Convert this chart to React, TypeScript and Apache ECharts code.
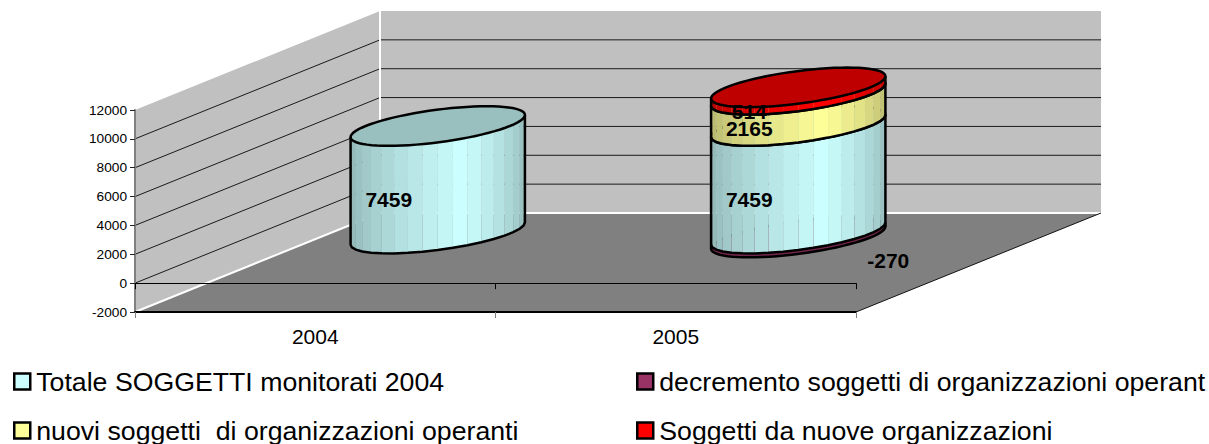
import React, { useEffect, useRef } from "react";
import * as echarts from "echarts";

const categories = ["2004", "2005"];
const totale = [7459, 7459];
const decremento = [null, -270];
const nuovi = [null, 2165];
const nuoveOrganizzazioni = [null, 514];
const yMin = -2000;
const yMax = 12000;
const yStep = 2000;
const gridValues = [0, 2000, 4000, 6000, 8000, 10000];

const seriesNames = [
  "Totale SOGGETTI monitorati 2004",
  "decremento soggetti di organizzazioni operant",
  "nuovi soggetti  di organizzazioni operanti",
  "Soggetti da nuove organizzazioni",
];
const seriesColors = ["#CCFFFF", "#993366", "#FFFF99", "#FF0000"];

const DEPTH_X = 245;
const DEPTH_Y = -99;
const GAP = 2.5; // gap width 150%
const FACETS = 18;
const LABEL_FONT = 'bold 21px "Liberation Sans", Arial, sans-serif';
const FONT = '"Liberation Sans", Arial, sans-serif';

function shade(hex: string, k: number) {
  const n = parseInt(hex.slice(1), 16);
  const c = [(n >> 16) & 255, (n >> 8) & 255, n & 255].map((v) => Math.round(v * k));
  return `rgb(${c[0]},${c[1]},${c[2]})`;
}

function wallsRender(params: any, api: any) {
  const cs = params.coordSys;
  const left = cs.x;
  const right = cs.x + cs.width;
  const yOf = (v: number) => api.coord([0, v])[1];
  const bottom = yOf(yMin);
  const top = yOf(yMax);
  const children: any[] = [
    { type: "polygon", shape: { points: [[left, top], [left + DEPTH_X, top + DEPTH_Y], [left + DEPTH_X, bottom + DEPTH_Y], [left, bottom]] }, style: { fill: "#C0C0C0" } },
    { type: "rect", shape: { x: left + DEPTH_X, y: top + DEPTH_Y, width: right - left, height: bottom - top }, style: { fill: "#C0C0C0" } },
    { type: "polygon", shape: { points: [[left, bottom], [right, bottom], [right + DEPTH_X, bottom + DEPTH_Y], [left + DEPTH_X, bottom + DEPTH_Y]] }, style: { fill: "#808080" } },
  ];
  gridValues.forEach((v) => {
    const y = yOf(v);
    children.push({ type: "polyline", shape: { points: [[left, y], [left + DEPTH_X, y + DEPTH_Y], [right + DEPTH_X, y + DEPTH_Y]] }, style: { stroke: "#1a1a1a", fill: "none", lineWidth: 1 } });
  });
  const white = { stroke: "#FFFFFF", fill: "none", lineWidth: 2 };
  children.push({ type: "polyline", shape: { points: [[left, bottom], [left + DEPTH_X, bottom + DEPTH_Y], [left + DEPTH_X, top + DEPTH_Y]] }, style: white });
  children.push({ type: "polyline", shape: { points: [[left + DEPTH_X, bottom + DEPTH_Y], [right + DEPTH_X, bottom + DEPTH_Y]] }, style: white });
  children.push({ type: "polyline", shape: { points: [[right, bottom], [right + DEPTH_X, bottom + DEPTH_Y]] }, style: { stroke: "#111", fill: "none", lineWidth: 1 } });
  return { type: "group", children };
}

function cylinderRender(color: string, nudge: number[]) {
  return (params: any, api: any) => {
    const idx = api.value(0);
    const base = api.value(1);
    const top = api.value(2);
    const label = api.value(3);
    const band = api.size([1, 0])[0];
    const p0 = api.coord([idx, base]);
    const p1 = api.coord([idx, top]);
    const cx = p0[0] + DEPTH_X / 2;
    const yB = p0[1] + DEPTH_Y / 2;
    const yT = p1[1] + DEPTH_Y / 2;
    const a = band / 2 / GAP;
    const bx = (DEPTH_X / 2) / GAP;
    const by = (DEPTH_Y / 2) / GAP;
    const pt = (t: number, y: number) => [cx + a * Math.cos(t) + bx * Math.sin(t), y + by * Math.sin(t)];
    const t0 = Math.atan2(bx, a);
    const tAt = (i: number) => t0 - Math.PI + (Math.PI * i) / FACETS;
    const children: any[] = [];
    for (let i = 0; i < FACETS; i++) {
      const u = i / (FACETS - 1);
      const k = u < 0.6 ? 0.7 + 0.3 * (u / 0.6) : 1 - 0.28 * ((u - 0.6) / 0.4);
      children.push({
        type: "polygon",
        shape: { points: [pt(tAt(i), yT), pt(tAt(i + 1), yT), pt(tAt(i + 1), yB), pt(tAt(i), yB)] },
        style: { fill: shade(color, k) },
      });
    }
    const bottomArc: number[][] = [pt(tAt(0), yT)];
    for (let i = 0; i <= FACETS; i++) bottomArc.push(pt(tAt(i), yB));
    bottomArc.push(pt(tAt(FACETS), yT));
    children.push({ type: "polyline", shape: { points: bottomArc }, style: { stroke: "#000", fill: "none", lineWidth: 2.5 } });
    const ring: number[][] = [];
    for (let i = 0; i < 72; i++) ring.push(pt((i / 72) * Math.PI * 2, yT));
    children.push({ type: "polygon", shape: { points: ring }, style: { fill: shade(color, 0.75), stroke: "#000", lineWidth: 2.5 } });
    const mid = (yB + yT) / 2;
    children.push({
      type: "text",
      z2: 50,
      style: {
        text: String(label),
        x: cx - 49 + nudge[0],
        y: mid + 20 + nudge[1],
        font: LABEL_FONT,
        fill: "#000",
        textAlign: "center",
        verticalAlign: "middle",
      },
    });
    return { type: "group", children };
  };
}

function stackRows() {
  const rows: any[][] = [[], [], [], []];
  categories.forEach((_, i) => {
    const t = totale[i];
    rows[0].push([i, 0, t, t]);
    const d = decremento[i];
    if (d !== null) rows[1].push([i, 0, d, d]);
    const n = nuovi[i];
    if (n !== null) rows[2].push([i, t, t + n, n]);
    const o = nuoveOrganizzazioni[i];
    if (o !== null) rows[3].push([i, t + (n ?? 0), t + (n ?? 0) + o, o]);
  });
  return rows;
}

const legendLayout = [
  { left: 13, top: 368 },
  { left: 636, top: 368 },
  { left: 13, top: 417 },
  { left: 636, top: 417 },
];

export default function App() {
  const ref = useRef<HTMLDivElement>(null);
  useEffect(() => {
    document.body.style.margin = "0";
    const chart = echarts.init(ref.current!, undefined, { renderer: "svg" });
    const rows = stackRows();
    const zOrder = [5, 4, 6, 7];
    const nudges = [[0, 0], [139, 5], [0, -2], [0, 0]];
    chart.setOption({
      animation: false,
      backgroundColor: "#FFFFFF",
      textStyle: { fontFamily: FONT },
      grid: { left: 135, right: 353, top: 110, bottom: 132, containLabel: false },
      legend: seriesNames.map((name, i) => ({
        data: [name],
        selectedMode: false,
        left: legendLayout[i].left,
        top: legendLayout[i].top,
        padding: 0,
        itemWidth: 16,
        itemHeight: 16,
        itemGap: 0,
        icon: "rect",
        itemStyle: { borderColor: "#000", borderWidth: 2.5 },
        textStyle: { fontFamily: FONT, fontSize: 26.7, color: "#000", padding: [0, 0, 0, 1] },
      })),
      xAxis: [
        {
          type: "category",
          data: categories,
          position: "bottom",
          z: 3,
          axisLine: { onZero: false, lineStyle: { color: "#000", width: 2 } },
          axisTick: { show: true, length: 6, lineStyle: { color: "#808080", width: 1 } },
          axisLabel: { color: "#000", fontSize: 21, fontFamily: FONT, margin: 14 },
        },
        {
          type: "category",
          data: categories,
          position: "bottom",
          z: 3,
          axisLine: { onZero: true, lineStyle: { color: "#000", width: 1 } },
          axisTick: { show: true, length: 6, lineStyle: { color: "#000", width: 1 } },
          axisLabel: { show: false },
        },
      ],
      yAxis: {
        type: "value",
        min: yMin,
        max: yMax,
        interval: yStep,
        z: 3,
        axisLine: { show: true, lineStyle: { color: "#808080", width: 2 } },
        axisTick: { show: true, length: 5, lineStyle: { color: "#222", width: 1 } },
        splitLine: { show: false },
        axisLabel: { color: "#000", fontSize: 13.7, fontFamily: FONT, margin: 8, formatter: (v: number) => String(v) },
      },
      series: [
        { type: "custom", name: "walls", silent: true, z: 1, renderItem: wallsRender, data: [[0, 0]], encode: { x: 0, y: 1 } },
        ...seriesNames.map((name, i) => ({
          type: "custom",
          name,
          silent: true,
          z: zOrder[i],
          itemStyle: { color: seriesColors[i] },
          renderItem: cylinderRender(seriesColors[i], nudges[i]),
          data: rows[i],
          encode: { x: 0, y: [1, 2] },
        })),
      ],
    });
    return () => chart.dispose();
  }, []);
  return <div ref={ref} style={{ width: 1209, height: 444, position: "absolute", left: 0, top: 0, overflow: "hidden" }} />;
}
